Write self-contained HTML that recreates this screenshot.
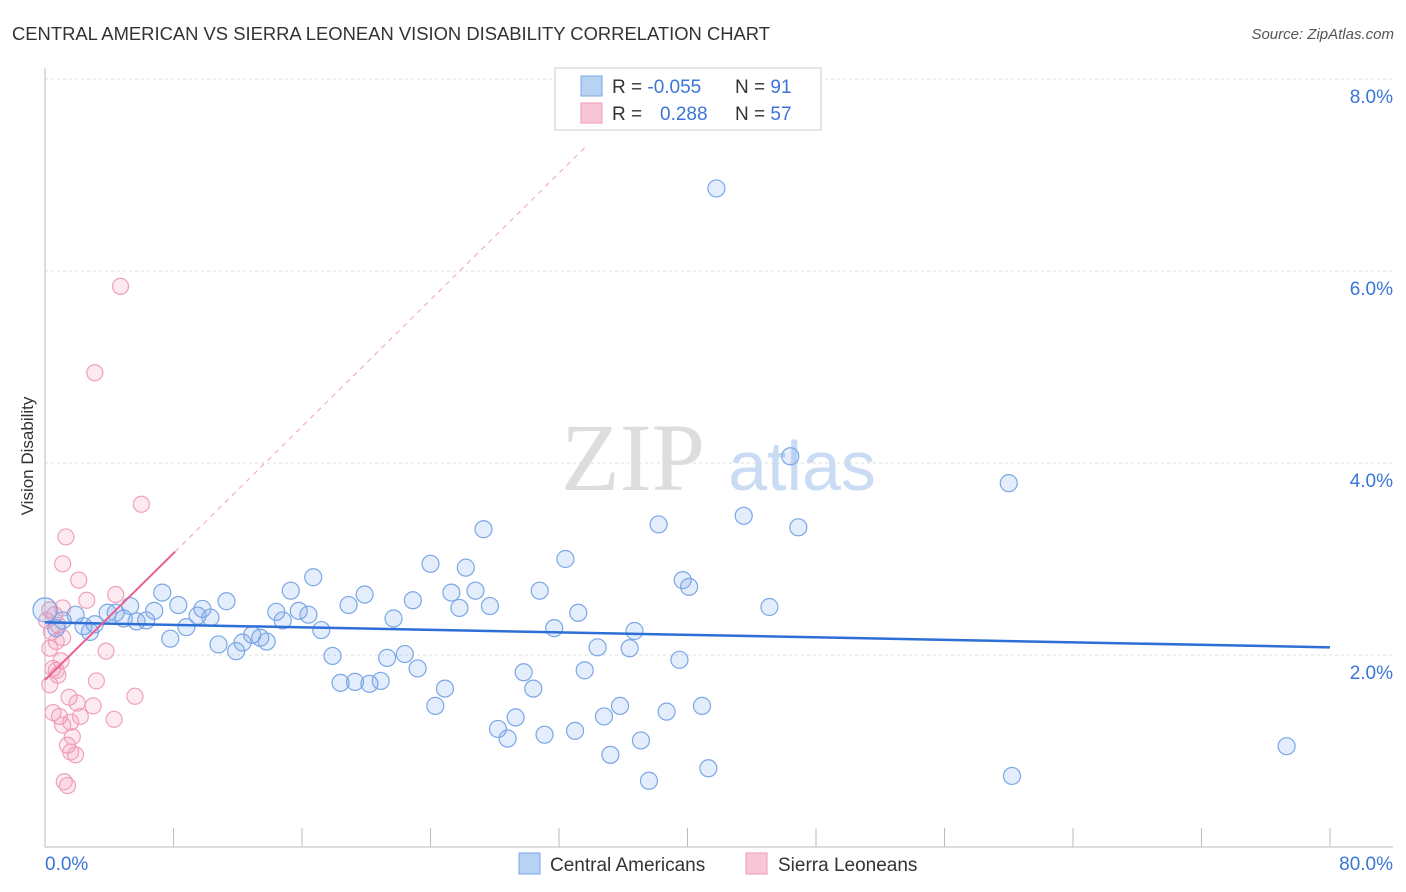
<!DOCTYPE html>
<html><head><meta charset="utf-8"><style>
body{margin:0;background:#fff;font-family:"Liberation Sans",sans-serif;}
svg{display:block}
</style></head><body>
<svg id="chart" width="1406" height="892">
<text x="12" y="40" font-size="18" fill="#333" textLength="758" lengthAdjust="spacingAndGlyphs">CENTRAL AMERICAN VS SIERRA LEONEAN VISION DISABILITY CORRELATION CHART</text>
<text x="1394" y="39" font-size="15" fill="#555" font-style="italic" text-anchor="end">Source: ZipAtlas.com</text>
<text transform="translate(33,456) rotate(-90)" font-size="17" fill="#333" text-anchor="middle">Vision Disability</text>
<g>
<text x="633" y="490" font-size="96" font-family="Liberation Serif,serif" fill="#ddd" text-anchor="middle">ZIP</text>
<text x="802" y="490" font-size="70" fill="#c9dcf4" text-anchor="middle">atlas</text>
</g>
<g id="grid"></g><g id="axes"></g><g id="marks"></g>
<g>
<rect x="555" y="68" width="266" height="62" fill="#fff" stroke="#ccc"/>
<rect x="581" y="76" width="21" height="20" fill="#b8d2f4" stroke="#7aa6e6"/>
<rect x="581" y="103" width="21" height="20" fill="#f9c6d6" stroke="#ee99b4"/>
<text x="612" y="93" font-size="19" fill="#333">R = <tspan fill="#3b75d8">-0.055</tspan></text>
<text x="735" y="93" font-size="19" fill="#333">N = <tspan fill="#3b75d8">91</tspan></text>
<text x="612" y="120" font-size="19" fill="#333">R = <tspan fill="#3b75d8" x="660">0.288</tspan></text>
<text x="735" y="120" font-size="19" fill="#333">N = <tspan fill="#3b75d8">57</tspan></text>
</g>
<g>
<rect x="519" y="853" width="21" height="21" fill="#b8d2f4" stroke="#7aa6e6"/>
<text x="550" y="871" font-size="19" fill="#333">Central Americans</text>
<rect x="746" y="853" width="21" height="21" fill="#f9c6d6" stroke="#ee99b4"/>
<text x="778" y="871" font-size="19" fill="#333">Sierra Leoneans</text>
</g>
</svg>
<script>
const yTicks=[2,4,6,8];
const yTickLabels=["2.0%","4.0%","6.0%","8.0%"];
const blueX=[41.8,46.4,60.0,43.5,46.9,38.2,27.3,32.4,24.0,26.2,16.7,39.7,40.1,30.8,15.3,26.8,7.3,19.9,25.3,22.9,11.3,18.9,27.7,25.8,8.3,5.3,45.1,9.8,6.8,14.4,15.8,33.2,3.9,9.5,16.4,10.3,6.3,4.9,21.7,14.8,5.7,1.1,1.9,0,2.4,2.8,8.8,31.7,17.2,36.7,7.8,12.9,13.4,12.3,10.8,13.8,11.9,34.4,36.4,17.9,21.3,22.4,39.5,23.2,33.6,29.8,18.4,19.3,20.2,20.9,30.4,24.9,24.3,35.8,40.9,34.8,29.3,38.7,28.2,28.8,31.1,33.0,37.1,77.3,35.2,41.3,37.6,60.2,3.1,4.4,0.7];
const blueY=[6.86,4.07,3.79,3.45,3.33,3.36,3.31,3.0,2.95,2.91,2.81,2.78,2.71,2.67,2.67,2.67,2.65,2.63,2.65,2.57,2.56,2.52,2.51,2.49,2.52,2.51,2.5,2.48,2.46,2.45,2.46,2.44,2.44,2.41,2.42,2.39,2.36,2.38,2.38,2.36,2.35,2.36,2.42,2.47,2.30,2.24,2.29,2.28,2.26,2.25,2.17,2.21,2.18,2.13,2.11,2.14,2.04,2.08,2.07,1.99,1.97,2.01,1.95,1.86,1.84,1.82,1.71,1.72,1.70,1.73,1.65,1.65,1.47,1.47,1.47,1.36,1.35,1.41,1.23,1.13,1.17,1.21,1.11,1.05,0.96,0.82,0.69,0.74,2.32,2.44,2.28];
const pinkX=[4.7,3.1,6.0,1.3,1.1,2.1,4.4,2.6,0.3,0.6,0.8,0.4,1.1,0.7,3.8,0.3,1.0,0.5,0.8,0.3,3.2,5.6,1.5,2.0,3.0,0.5,0.9,2.2,4.3,1.6,1.1,1.7,1.4,1.6,1.9,1.2,1.4,0.7,1.1,0.1];
const pinkY=[5.84,4.94,3.57,3.23,2.95,2.78,2.63,2.57,2.47,2.42,2.31,2.24,2.18,2.14,2.04,2.07,1.94,1.86,1.79,1.69,1.73,1.57,1.56,1.50,1.47,1.40,1.36,1.36,1.33,1.30,1.27,1.15,1.06,0.99,0.96,0.68,0.64,1.84,2.49,2.36];
const blueFit=[2.34,-0.00325];
const pinkFit=[1.74,0.165];
const NS="http://www.w3.org/2000/svg";
const xs=v=>45+v*(1285/80), ys=v=>847-v*96;
function mk(t,a,p){const e=document.createElementNS(NS,t);for(const k in a)e.setAttribute(k,a[k]);p.appendChild(e);return e;}
const grid=document.getElementById('grid'),axes=document.getElementById('axes'),marks=document.getElementById('marks');
yTicks.forEach((v,i)=>{
 const l=mk('line',{x1:45,x2:1393,y1:ys(v),y2:ys(v),stroke:'#ddd','stroke-dasharray':'3,3'},grid);
 
 
 const t=mk('text',{x:1393,y:ys(v)+24,'font-size':19,fill:'#3b75d8','text-anchor':'end'},axes);
 t.textContent=yTickLabels[i];
 
 
});
mk('line',{x1:45,x2:45,y1:68,y2:847,stroke:'#bbb'},axes);
mk('line',{x1:45,x2:1393,y1:847,y2:847,stroke:'#bbb'},axes);
for(let i=0;i<=10;i++){const t=mk('line',{x1:xs(i*8),x2:xs(i*8),y1:828,y2:847,stroke:'#bbb'},axes);
 
 }
let t0=mk('text',{x:45,y:870,'font-size':19,fill:'#3b75d8'},axes);t0.textContent='0.0%';


let t1=mk('text',{x:1393,y:870,'font-size':19,fill:'#3b75d8','text-anchor':'end'},axes);t1.textContent='80.0%';


pinkX.forEach((x,i)=>{const c=mk('circle',{cx:xs(x),cy:ys(pinkY[i]),r:8,fill:'rgba(244,150,180,0.2)',stroke:'#f0a0bb','stroke-width':1.2},marks);
 
 });
blueX.forEach((x,i)=>{const c=mk('circle',{cx:xs(x),cy:ys(blueY[i]),r:i==43?12:8.5,fill:'rgba(120,165,235,0.2)',stroke:'#7ba7e6','stroke-width':1.2},marks);
 
 });
let bl=mk('line',{x1:xs(0),y1:ys(blueFit[0]),x2:xs(80),y2:ys(blueFit[0]+blueFit[1]*80),stroke:'#2d6fd6','stroke-width':2.5},marks);


let pd=mk('line',{x1:xs(8.1),y1:ys(pinkFit[0]+pinkFit[1]*8.1),x2:xs(33.8),y2:ys(pinkFit[0]+pinkFit[1]*33.8),stroke:'#f0a0bb','stroke-width':1,'stroke-dasharray':'5,5'},marks);


let pl=mk('line',{x1:xs(0),y1:ys(pinkFit[0]),x2:xs(8.1),y2:ys(pinkFit[0]+pinkFit[1]*8.1),stroke:'#e8608e','stroke-width':2},marks);


</script>
</body></html>
